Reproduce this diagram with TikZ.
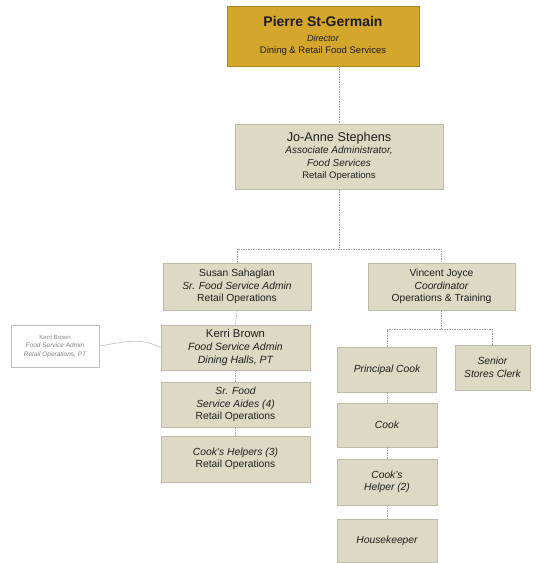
\documentclass[tikz,border=0pt]{standalone}
\usepackage{fontspec}
\setmainfont{Liberation Sans}
\definecolor{gold}{RGB}{212,166,44}
\definecolor{beige}{RGB}{221,217,196}
\definecolor{bord}{RGB}{190,186,168}
\definecolor{lin}{RGB}{160,160,160}
\definecolor{txt}{RGB}{30,30,30}
\begin{document}
\begin{tikzpicture}[x=1pt,y=-1pt,
  box/.style={draw=bord,fill=beige,line width=0.6pt,rectangle,align=center,inner sep=1pt,text=txt,font=\fontsize{10.3}{12.5}\selectfont},
  conn/.style={draw=lin,dashed,dash pattern=on 1.5pt off 1pt,line width=0.6pt}]
\useasboundingbox (0,0) rectangle (536,563);
\node[box,fill=gold,draw=gold!80!black,minimum width=192pt,minimum height=60pt] (pierre) at (323,36)
  {{\fontsize{14}{16}\selectfont\bfseries Pierre St-Germain}\\[2pt]
   {\fontsize{9}{11}\selectfont\itshape Director}\\
   {\fontsize{9.5}{11}\selectfont Dining \& Retail Food Services}};
\node[box,minimum width=208pt,minimum height=65pt] (jo) at (339,156.5)
  {{\fontsize{12.7}{14}\selectfont Jo-Anne Stephens}\\
   {\fontsize{10}{12}\selectfont\itshape Associate Administrator,}\\
   {\fontsize{10}{12}\selectfont\itshape Food Services}\\
   {\fontsize{9.5}{11}\selectfont Retail Operations}};
\node[box,minimum width=148pt,minimum height=47pt] (susan) at (237,286.5)
  {Susan Sahaglan\\ {\itshape Sr. Food Service Admin}\\ Retail Operations};
\node[box,minimum width=147pt,minimum height=47pt] (vincent) at (441.5,286.5)
  {Vincent Joyce\\ {\itshape Coordinator}\\ Operations \& Training};
\node[box,minimum width=149pt,minimum height=45pt,font=\fontsize{10.5}{13}\selectfont] (kerri) at (235.5,347.5)
  {{\fontsize{11.3}{13}\selectfont Kerri Brown}\\ {\itshape Food Service Admin}\\ {\itshape Dining Halls, PT}};
\node[box,fill=white,draw=lin!70,minimum width=88pt,minimum height=42pt,text=gray,font=\fontsize{6.5}{8.5}\selectfont] (kerri2) at (55,346)
  {{\fontsize{6}{8}\selectfont Kerri Brown}\\ {\itshape Food Service Admin}\\ {\itshape Retail Operations, PT}};
\node[box,minimum width=149pt,minimum height=45pt] (srfood) at (235.5,404.5)
  {{\itshape Sr. Food}\\ {\itshape Service Aides (4)}\\ Retail Operations};
\node[box,minimum width=149pt,minimum height=46pt] (helpers) at (235.5,459)
  {{\itshape Cook's Helpers (3)}\\ Retail Operations};
\node[box,minimum width=99pt,minimum height=45pt] (principal) at (387,369.5)
  {\itshape Principal Cook};
\node[box,minimum width=75pt,minimum height=45pt] (senior) at (492.5,367.5)
  {{\itshape Senior}\\ {\itshape Stores Clerk}};
\node[box,minimum width=100pt,minimum height=44pt] (cook) at (387,425)
  {\itshape Cook};
\node[box,minimum width=100pt,minimum height=46pt] (chelper) at (387,482)
  {{\itshape Cook's}\\ {\itshape Helper (2)}};
\node[box,minimum width=100pt,minimum height=43pt] (house) at (387,540.5)
  {\itshape Housekeeper};
\coordinate (j1) at (339,249);
\coordinate (j2) at (441.5,329);
\draw[conn] (jo.north |- pierre.south) -- (jo.north);
\draw[conn] (jo.south) -- (j1);
\draw[conn] (susan.north) -- (susan.north |- j1) -- (vincent.north |- j1) -- (vincent.north);
\draw[conn] (susan.south) -- (kerri.north);
\draw[conn] (kerri.south) -- (srfood.north);
\draw[conn] (srfood.south) -- (helpers.north);
\draw[conn] (vincent.south) -- (j2);
\draw[conn] (principal.north) -- (principal.north |- j2) -- (senior.north |- j2) -- (senior.north);
\draw[conn] (principal.south) -- (cook.north);
\draw[conn] (cook.south) -- (chelper.north);
\draw[conn] (chelper.south) -- (house.north);
\draw[draw=lin!60,line width=0.7pt] (kerri2.east) .. controls (125,342) and (140,337) .. (kerri.west);
\end{tikzpicture}
\end{document}
